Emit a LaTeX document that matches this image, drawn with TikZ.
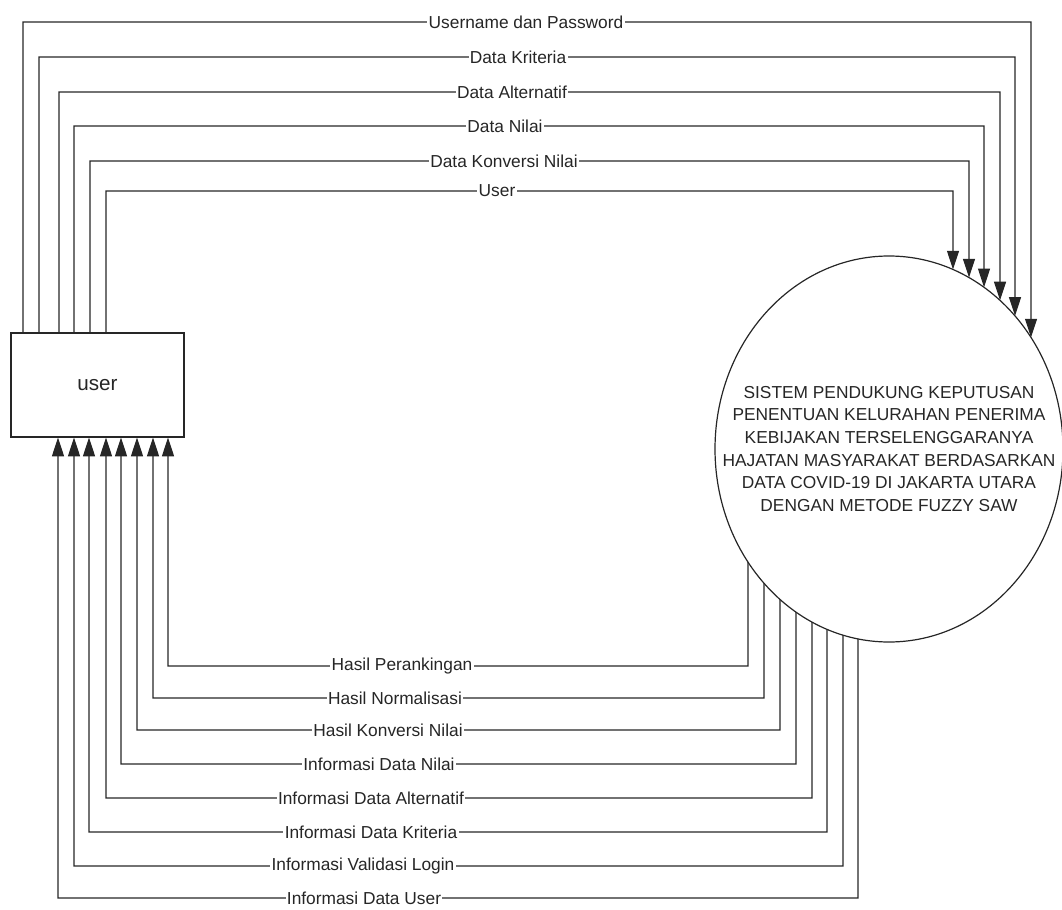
\documentclass[tikz,border=0pt]{standalone}
\usepackage{fontspec}
\setmainfont{Liberation Sans}
\usetikzlibrary{arrows.meta,intersections}
\begin{document}
\begin{tikzpicture}[x=0.75pt, y=-0.75pt, line width=0.9pt,
  every node/.style={font=\fontsize{13}{16}\selectfont, text=black!85},
  flow/.style={draw=black!85, -{Triangle[length=14pt,width=9pt]}},
  lbl/.style={fill=white, inner xsep=1pt, inner ysep=0pt}]
  \useasboundingbox (0,0) rectangle (1062,909);
  \node[draw=black!85, minimum width=129.75pt, minimum height=78pt, font=\fontsize{15.5}{18}\selectfont] (user) at (97.5,385) {user};
  \node[align=center, font=\fontsize{13}{17}\selectfont] (sys) at (889,449) {SISTEM PENDUKUNG KEPUTUSAN\\PENENTUAN KELURAHAN PENERIMA\\KEBIJAKAN TERSELENGGARANYA\\HAJATAN MASYARAKAT BERDASARKAN\\DATA COVID-19 DI JAKARTA UTARA\\DENGAN METODE FUZZY SAW};
  \draw[draw=black!85, name path=rim] (sys.center) ellipse [x radius=130.5pt, y radius=144.75pt];
  % data flows into the system
  \foreach \i/\xl/\xr/\yy/\lx/\txt in {1/23/1031/22/526/Username dan Password, 2/39/1015/57/518/Data Kriteria, 3/59/1000/92/512/Data Alternatif, 4/74/984/126/505/Data Nilai, 5/90/969/161/504/Data Konversi Nilai, 6/106/953/191/497/User} {
    \path[name path=cut] (\xr,200) -- (\xr,450);
    \draw[flow, name intersections={of=cut and rim}] (user.north -| \xl,0) |- (\xr,\yy) -- (intersection-1);
    \node[lbl] (in\i) at (\lx,\yy) {\txt};
  }
  % results back to the user
  \foreach \i/\xr/\yy/\xl/\lx/\txt in {1/748/666/168/402/Hasil Perankingan, 2/764/698/153/395/Hasil Normalisasi, 3/780/730/137/388/Hasil Konversi Nilai, 4/796/764/121/379/Informasi Data Nilai, 5/812/798/106/371/Informasi Data Alternatif, 6/827/832/89/371/Informasi Data Kriteria, 7/843/866/74/363/Informasi Validasi Login, 8/858/898/58/364/Informasi Data User} {
    \path[name path=cut] (\xr,450) -- (\xr,700);
    \draw[flow, name intersections={of=cut and rim}] (intersection-1) -- (\xr,\yy) -| (user.south -| \xl,0);
    \node[lbl] (out\i) at (\lx,\yy) {\txt};
  }
\end{tikzpicture}
\end{document}
